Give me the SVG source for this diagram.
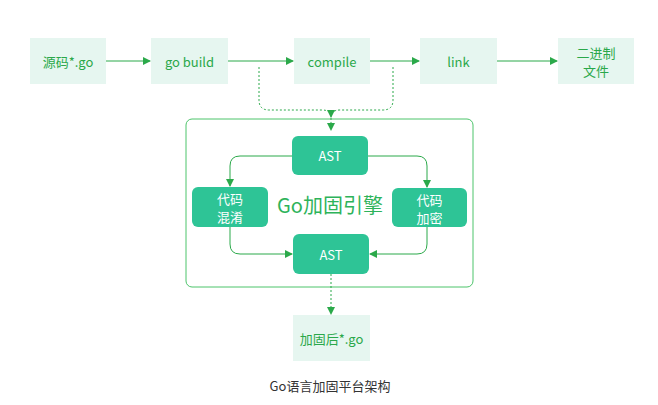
<svg xmlns="http://www.w3.org/2000/svg" width="658" height="405" viewBox="0 0 658 405">
<defs>
<marker id="ah" markerWidth="8" markerHeight="8" refX="7" refY="4" orient="auto" markerUnits="userSpaceOnUse"><path d="M0,0 L8,4 L0,8 Z" fill="#2ba94a"/></marker>
<style>
.lb{fill:#e6f6f0}
.gb{fill:#2ec496}
.t{font-family:"Noto Sans CJK SC","Liberation Sans",sans-serif;font-size:13px;fill:#2aa84a;text-anchor:middle;dominant-baseline:central}
.w{font-family:"Noto Sans CJK SC","Liberation Sans",sans-serif;font-size:13px;fill:#fff;text-anchor:middle;dominant-baseline:central}
.c{fill:none;stroke:#2ba94a;stroke-width:1;marker-end:url(#ah)}
.d{stroke-dasharray:2 2}
</style>
</defs>
<rect width="658" height="405" fill="#fff"/>
<rect x="186" y="119" width="287" height="168" rx="6" fill="none" stroke="#4cc46a" stroke-width="1"/>
<g id="src"><rect class="lb" x="30" y="38" width="76" height="46"/><text class="t" x="68" y="61">源码*.go</text></g>
<g id="build"><rect class="lb" x="151" y="38" width="77" height="46"/><text class="t" x="189.5" y="61">go build</text></g>
<g id="compile"><rect class="lb" x="294" y="38" width="76" height="46"/><text class="t" x="332" y="61">compile</text></g>
<g id="link"><rect class="lb" x="420" y="38" width="77" height="46"/><text class="t" x="458.5" y="61">link</text></g>
<g id="bin"><rect class="lb" x="558" y="38" width="76" height="46"/><text class="t" x="596" y="52">二进制</text><text class="t" x="596" y="70">文件</text></g>
<g id="ast1"><rect class="gb" x="292" y="136" width="76" height="39" rx="6"/><text class="w" x="330" y="155.5">AST</text></g>
<g id="obf"><rect class="gb" x="192" y="187" width="76" height="40" rx="6"/><text class="w" x="230" y="198">代码</text><text class="w" x="230" y="216">混淆</text></g>
<g id="enc"><rect class="gb" x="392" y="188" width="75" height="39" rx="6"/><text class="w" x="429.5" y="199">代码</text><text class="w" x="429.5" y="217">加密</text></g>
<g id="ast2"><rect class="gb" x="293" y="234" width="76" height="40" rx="6"/><text class="w" x="331" y="254">AST</text></g>
<g id="engine"><text class="t" x="330" y="204" style="font-size:20px;fill:#2eb35a">Go加固引擎</text></g>
<g id="out"><rect class="lb" x="293" y="315" width="77" height="46"/><text class="t" x="331.5" y="338">加固后*.go</text></g>
<text x="330" y="385" style="font-family:'Noto Sans CJK SC','Liberation Sans',sans-serif;font-size:13px;fill:#333;text-anchor:middle;dominant-baseline:central">Go语言加固平台架构</text>
<g id="connectors">
<path class="c" d="M106,61 H150"/>
<path class="c" d="M228,61 H293"/>
<path class="c" d="M370,61 H419"/>
<path class="c" d="M497,61 H557"/>
<path class="c d" d="M259,67 V100 Q259,110 269,110 H322 Q331,110 331,117 V130"/>
<path class="c d" d="M393,67 V100 Q393,110 383,110 H340 Q331,110 331,117"/>
<path class="c" d="M292,156 H240 Q230,156 230,166 V186"/>
<path class="c" d="M368,156 H417 Q427,156 427,166 V187"/>
<path class="c" d="M230,227 V244 Q230,254 240,254 H292"/>
<path class="c" d="M427,227 V244 Q427,254 417,254 H370"/>
<path class="c d" d="M331,274 V314"/>
</g>
</svg>
